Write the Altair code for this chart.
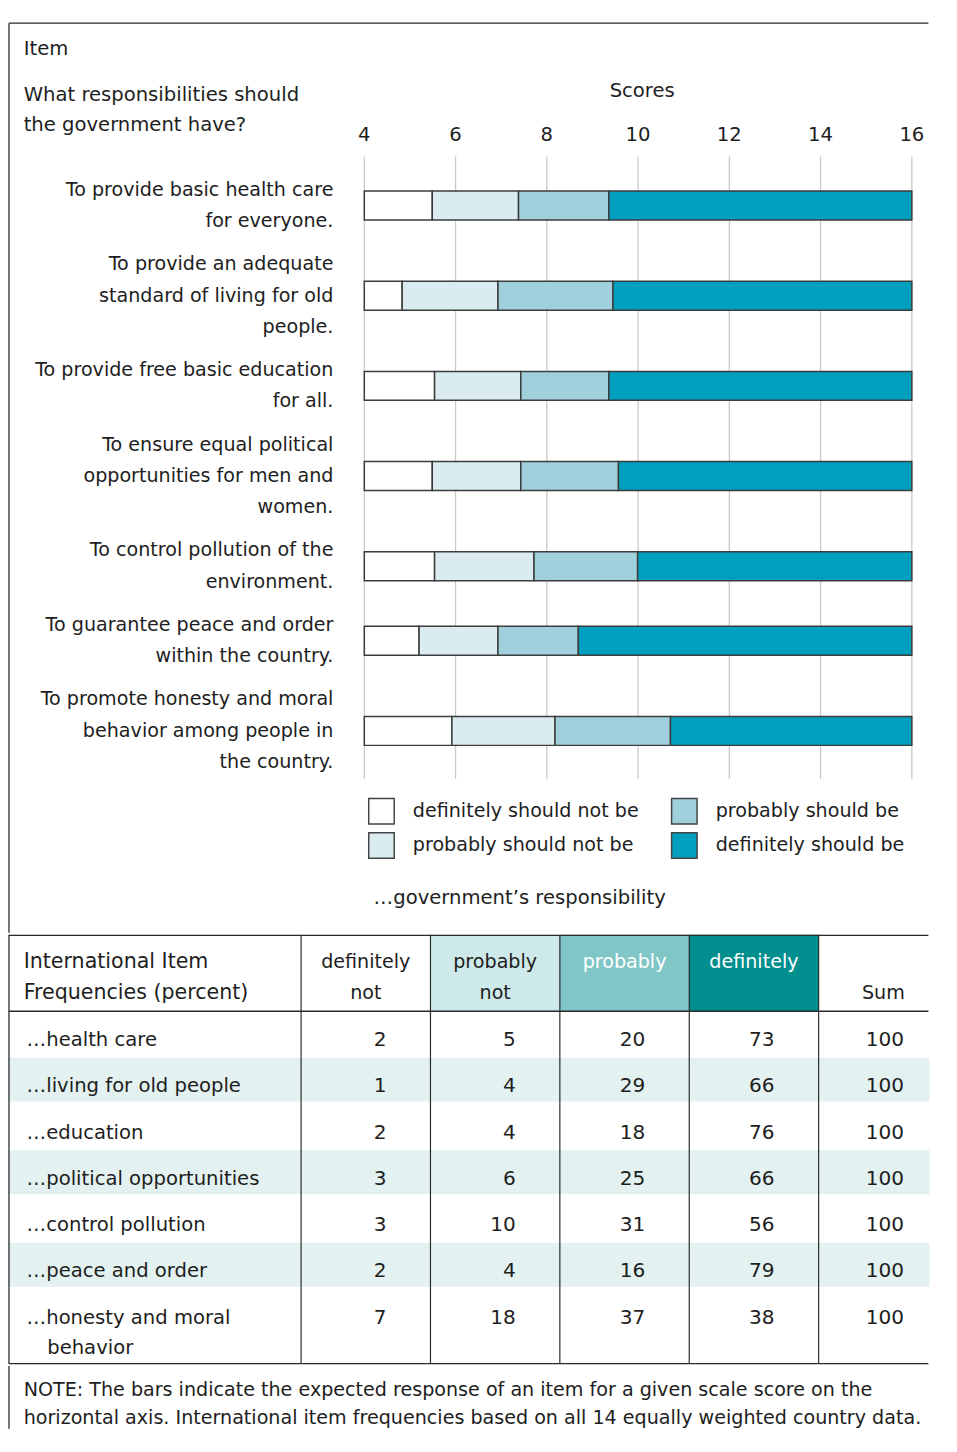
import altair as alt
import pandas as pd

# ---------------- data ----------------
items = [
    "To provide basic health care\nfor everyone.",
    "To provide an adequate\nstandard of living for old\npeople.",
    "To provide free basic education\nfor all.",
    "To ensure equal political\nopportunities for men and\nwomen.",
    "To control pollution of the\nenvironment.",
    "To guarantee peace and order\nwithin the country.",
    "To promote honesty and moral\nbehavior among people in\nthe country.",
]
# score thresholds between the response categories
thr_1 = [5.49, 4.83, 5.54, 5.49, 5.54, 5.20, 5.92]
thr_2 = [7.38, 6.93, 7.43, 7.43, 7.72, 6.93, 8.18]
thr_3 = [9.36, 9.45, 9.36, 9.57, 9.99, 8.69, 10.71]
scale_min, scale_max = 4, 16
score_ticks = [4, 6, 8, 10, 12, 14, 16]

categories = ["definitely should not be", "probably should not be",
              "probably should be", "definitely should be"]
cat_colors = ["#ffffff", "#dbecf0", "#9fd0dc", "#009fbf"]

row_labels = ["\u2026health care", "\u2026living for old people", "\u2026education",
              "\u2026political opportunities", "\u2026control pollution",
              "\u2026peace and order", "\u2026honesty and moral\nbehavior"]
freq_def_not = [2, 1, 2, 3, 3, 2, 7]
freq_prob_not = [5, 4, 4, 6, 10, 4, 18]
freq_prob = [20, 29, 18, 25, 31, 16, 37]
freq_def = [73, 66, 76, 66, 56, 79, 38]
freq_sum = [100, 100, 100, 100, 100, 100, 100]

col_headers = ["definitely\nnot", "probably\nnot", "probably\n", "definitely\n", "\nSum"]
col_head_fill = ["#ffffff", "#cde9e9", "#80c6c6", "#008e8e", "#ffffff"]
col_head_text = ["#1e1e1e", "#1e1e1e", "#ffffff", "#ffffff", "#1e1e1e"]

note_lines = ["NOTE: The bars indicate the expected response of an item for a given scale score on the",
              "horizontal axis. International item frequencies based on all 14 equally weighted country data."]

# ---------------- layout constants ----------------
FONT = "DejaVu Sans"
TXT = "#1e1e1e"
W = 940
HA, HB, HC = 929, 438, 64
FRAME = "#2a2a2a"


def static_text(text, x, y, size=20, align="left", baseline="middle", color=TXT, **kw):
    return alt.Chart(pd.DataFrame({"t": [text]})).mark_text(
        font=FONT, fontSize=size, align=align, baseline=baseline, color=color,
        lineBreak="\n", **kw
    ).encode(x=alt.value(x), y=alt.value(y), text="t:N")


def hrule(y, x0, x1, color=FRAME, width=1.3):
    return alt.Chart(pd.DataFrame({"a": [0]})).mark_rule(color=color, strokeWidth=width).encode(
        x=alt.value(x0), x2=alt.value(x1), y=alt.value(y))


def vrule(x, y0, y1, color=FRAME, width=1.3):
    return alt.Chart(pd.DataFrame({"a": [0]})).mark_rule(color=color, strokeWidth=width).encode(
        x=alt.value(x), y=alt.value(y0), y2=alt.value(y1))


# ---------------- section A: item map ----------------
PX_PER_SCORE = 46.55
SCORE_X0 = 363.5
xA = alt.Scale(domain=[scale_min - SCORE_X0 / PX_PER_SCORE,
                       scale_min + (W - SCORE_X0) / PX_PER_SCORE], nice=False, zero=False)
LINE = 32.0
FIRST = 171.0
GAP = 44.0 / LINE
yA = alt.Scale(domain=[-FIRST / LINE, (HA - FIRST) / LINE], reverse=True, nice=False, zero=False)


def px_to_score(px):
    return scale_min + (px - SCORE_X0) / PX_PER_SCORE


def px_to_line(py):
    return (py - FIRST) / LINE


n_lines = [s.count("\n") + 1 for s in items]
centers, firsts = [], []
start = 0.0
for n in n_lines:
    firsts.append(start)
    centers.append(start + (n - 1) / 2)
    start += (n - 1) + GAP

rows = []
for i, lab in enumerate(items):
    edges = [scale_min, thr_1[i], thr_2[i], thr_3[i], scale_max]
    for k, cat in enumerate(categories):
        rows.append({"item": i, "cat": cat, "lo": edges[k], "hi": edges[k + 1],
                     "y0": centers[i] - 0.461, "y1": centers[i] + 0.461})
bars_df = pd.DataFrame(rows)
labels_df = pd.DataFrame({"label": items, "first": firsts})
ticks_df = pd.DataFrame({"tick": score_ticks})

# legend layout (two columns, filled column by column)
LEG_X, LEG_DX, LEG_Y, LEG_DY, SYM = 368, 309, 805, 35, 26
leg = []
for k, cat in enumerate(categories):
    col, row = k // 2, k % 2
    x0 = LEG_X + col * LEG_DX
    yc = LEG_Y + row * LEG_DY
    leg.append({"cat": cat, "sx0": px_to_score(x0), "sx1": px_to_score(x0 + SYM),
                "sy0": px_to_line(yc - SYM / 2), "sy1": px_to_line(yc + SYM / 2),
                "tx": px_to_score(x0 + SYM + 19), "ty": px_to_line(yc)})
leg_df = pd.DataFrame(leg)
color_scale = alt.Scale(domain=categories, range=cat_colors)

grid = alt.Chart(ticks_df).mark_rule(color="#c9c9c9", strokeWidth=1.3).encode(
    x=alt.X("tick:Q", scale=xA, axis=None), y=alt.value(137), y2=alt.value(772))
tick_labels = alt.Chart(ticks_df).mark_text(
    font=FONT, fontSize=20, color=TXT, baseline="middle", align="center").encode(
    x=alt.X("tick:Q", scale=xA, axis=None), y=alt.value(115), text="tick:Q")

bars = alt.Chart(bars_df).mark_rect(stroke="#3c3c3c", strokeWidth=1.5).encode(
    x=alt.X("lo:Q", scale=xA, axis=None), x2="hi:Q",
    y=alt.Y("y0:Q", scale=yA, axis=None), y2="y1:Q",
    color=alt.Color("cat:N", scale=color_scale, legend=None))

leg_sym = alt.Chart(leg_df).mark_rect(stroke="#444444", strokeWidth=1.5).encode(
    x=alt.X("sx0:Q", scale=xA, axis=None), x2="sx1:Q",
    y=alt.Y("sy0:Q", scale=yA, axis=None), y2="sy1:Q",
    color=alt.Color("cat:N", scale=color_scale, legend=None))
leg_txt = alt.Chart(leg_df).mark_text(
    font=FONT, fontSize=19.5, color=TXT, align="left", baseline="middle").encode(
    x=alt.X("tx:Q", scale=xA, axis=None), y=alt.Y("ty:Q", scale=yA, axis=None), text="cat:N")

item_labels = alt.Chart(labels_df).mark_text(
    font=FONT, fontSize=19.5, color=TXT, align="right", baseline="middle",
    lineBreak="\n", lineHeight=LINE).encode(
    x=alt.value(332), y=alt.Y("first:Q", scale=yA, axis=None), text="label:N")

secA = alt.layer(
    grid, bars, leg_sym, leg_txt, tick_labels, item_labels,
    static_text("Item", 16, 27, size=20),
    static_text("What responsibilities should\nthe government have?", 16, 74, size=20, lineHeight=31),
    static_text("Scores", 647, 70, size=20, align="center"),
    static_text("\u2026government\u2019s responsibility", 522, 894, size=20, align="center"),
    hrule(1, 1, W - 1), vrule(1, 1, HA),
).properties(width=W, height=HA)

# ---------------- section B: frequency table ----------------
COL_W = 132.0
COL_X0 = 299.0
xB = alt.Scale(domain=[-COL_X0 / COL_W, (W - COL_X0) / COL_W], nice=False, zero=False)
ROW_P = 47.2
ROW_Y0 = 106.0
yB = alt.Scale(domain=[-ROW_Y0 / ROW_P, (HB - ROW_Y0) / ROW_P], reverse=True, nice=False, zero=False)

value_cols = [freq_def_not, freq_prob_not, freq_prob, freq_def, freq_sum]
cells = []
for r in range(len(row_labels)):
    for c, col in enumerate(value_cols):
        cells.append({"r": r, "xc": c + 0.66, "v": col[r]})
cells_df = pd.DataFrame(cells)
first_lines = [s.split("\n")[0] for s in row_labels]
cont_lines = ["\n".join(s.split("\n")[1:]) for s in row_labels]
rowlab_df = pd.DataFrame({"r": list(range(len(row_labels))), "label": first_lines, "cont": cont_lines})
shade_df = pd.DataFrame({"y0": [r - 0.59 for r in range(len(row_labels)) if r % 2 == 1],
                         "y1": [r + 0.36 for r in range(len(row_labels)) if r % 2 == 1]})
head_df = pd.DataFrame({"c0": list(range(len(col_headers))),
                        "c1": [c + 1 for c in range(len(col_headers))],
                        "cm": [c + 0.5 for c in range(len(col_headers))],
                        "t": col_headers, "fill": col_head_fill, "tc": col_head_text})
bound_df = pd.DataFrame({"b": list(range(len(col_headers)))})

shade = alt.Chart(shade_df).mark_rect(color="#e3f1f1").encode(
    x=alt.value(0), x2=alt.value(W),
    y=alt.Y("y0:Q", scale=yB, axis=None), y2="y1:Q")
head_fill = alt.Chart(head_df).mark_rect().encode(
    x=alt.X("c0:Q", scale=xB, axis=None), x2="c1:Q",
    y=alt.value(0), y2=alt.value(78), color=alt.Color("fill:N", scale=None))
head_text = alt.Chart(head_df).mark_text(
    font=FONT, fontSize=19.5, align="center", baseline="alphabetic",
    lineBreak="\n", lineHeight=32).encode(
    x=alt.X("cm:Q", scale=xB, axis=None), y=alt.value(34), text="t:N",
    color=alt.Color("tc:N", scale=None))
vlines = alt.Chart(bound_df).mark_rule(color=FRAME, strokeWidth=1.2).encode(
    x=alt.X("b:Q", scale=xB, axis=None), y=alt.value(0), y2=alt.value(HB))
cell_text = alt.Chart(cells_df).mark_text(
    font=FONT, fontSize=20.5, color=TXT, align="right", baseline="alphabetic", dy=7.5).encode(
    x=alt.X("xc:Q", scale=xB, axis=None), y=alt.Y("r:Q", scale=yB, axis=None), text="v:Q")
row_text = alt.Chart(rowlab_df).mark_text(
    font=FONT, fontSize=20, color=TXT, align="left", baseline="alphabetic", dy=7.5).encode(
    x=alt.value(19), y=alt.Y("r:Q", scale=yB, axis=None), text="label:N")
row_cont = alt.Chart(rowlab_df).mark_text(
    font=FONT, fontSize=20, color=TXT, align="left", baseline="alphabetic", dy=38.5).encode(
    x=alt.value(40), y=alt.Y("r:Q", scale=yB, axis=None), text="cont:N")

secB = alt.layer(
    shade, head_fill, vlines, head_text, cell_text, row_text, row_cont,
    static_text("International Item\nFrequencies (percent)", 16, 34, size=21,
                baseline="alphabetic", lineHeight=32),
    hrule(0.5, 1, W - 1), hrule(78, 1, W - 1), hrule(HB - 0.5, 1, W - 1), vrule(1, 0, HB),
).properties(width=W, height=HB)

# ---------------- section C: note ----------------
note_df = pd.DataFrame({"t": ["\n".join(note_lines)]})
note = alt.Chart(note_df).mark_text(
    font=FONT, fontSize=19.5, color=TXT, align="left", baseline="middle",
    lineBreak="\n", lineHeight=28, clip=True).encode(x=alt.value(16), y=alt.value(25), text="t:N")
secC = alt.layer(note, vrule(1, 0, HC)).properties(width=W, height=HC)

chart = alt.vconcat(secA, secB, secC, spacing=0).properties(padding=0).configure_view(stroke=None)
chart.save("out.html", embed_options={"renderer": "svg", "actions": False})
